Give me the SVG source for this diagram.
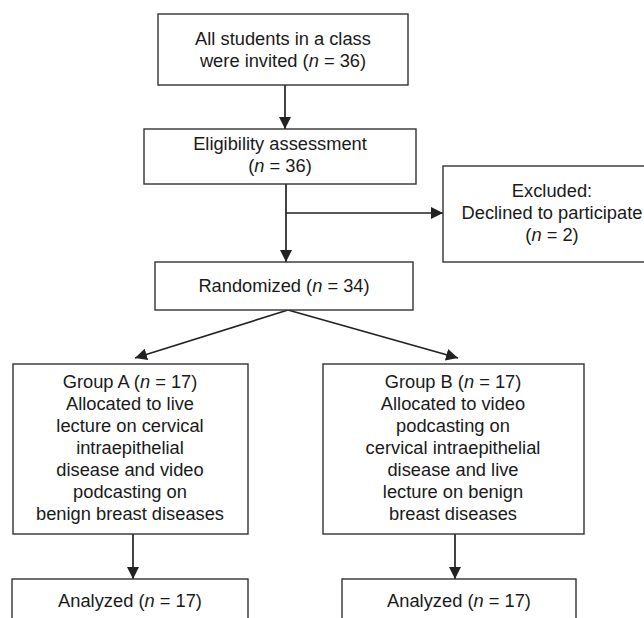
<svg xmlns="http://www.w3.org/2000/svg" width="644" height="618" viewBox="0 0 644 618">
<defs>
<marker id="ah" viewBox="0 0 12 12" refX="12" refY="6" markerWidth="12" markerHeight="12" markerUnits="userSpaceOnUse" orient="auto">
<path d="M0,0 L12,6 L0,12 Z" fill="#222"/>
</marker>
<style>
.box{fill:#fff;stroke:#333;stroke-width:1.4}
.t{font-family:"Liberation Sans",Arial,sans-serif;font-size:18.3px;fill:#1a1a1a;text-anchor:middle}
.c{fill:none;stroke:#222;stroke-width:1.7}
</style>
</defs>
<rect width="644" height="618" fill="#fff"/>
<g id="connectors">
<line class="c" x1="285" y1="85" x2="285" y2="129" marker-end="url(#ah)"/>
<line class="c" x1="286" y1="184" x2="286" y2="262" marker-end="url(#ah)"/>
<line class="c" x1="286" y1="213" x2="443" y2="213" marker-end="url(#ah)"/>
<line class="c" x1="288" y1="310" x2="135" y2="358" marker-end="url(#ah)"/>
<line class="c" x1="288" y1="310" x2="458" y2="358" marker-end="url(#ah)"/>
<line class="c" x1="133" y1="534" x2="133" y2="579" marker-end="url(#ah)"/>
<line class="c" x1="455" y1="534" x2="455" y2="579" marker-end="url(#ah)"/>
</g>
<g id="invited">
<rect class="box" x="158" y="14" width="250" height="71"/>
<text class="t" x="283" y="45">All students in a class</text>
<text class="t" x="283" y="67">were invited (<tspan font-style="italic">n</tspan> = 36)</text>
</g>
<g id="eligibility">
<rect class="box" x="144" y="129" width="272" height="55"/>
<text class="t" x="280" y="150">Eligibility assessment</text>
<text class="t" x="280" y="172">(<tspan font-style="italic">n</tspan> = 36)</text>
</g>
<g id="excluded">
<rect class="box" x="443" y="166" width="220" height="96"/>
<text class="t" x="552" y="197">Excluded:</text>
<text class="t" x="552" y="219">Declined to participate</text>
<text class="t" x="552" y="241">(<tspan font-style="italic">n</tspan> = 2)</text>
</g>
<g id="randomized">
<rect class="box" x="155" y="262" width="258" height="48"/>
<text class="t" x="284" y="292">Randomized (<tspan font-style="italic">n</tspan> = 34)</text>
</g>
<g id="groupA">
<rect class="box" x="13" y="364" width="235" height="170"/>
<text class="t" x="130" y="388">Group A (<tspan font-style="italic">n</tspan> = 17)</text>
<text class="t" x="130" y="410">Allocated to live</text>
<text class="t" x="130" y="432">lecture on cervical</text>
<text class="t" x="130" y="454">intraepithelial</text>
<text class="t" x="130" y="476">disease and video</text>
<text class="t" x="130" y="498">podcasting on</text>
<text class="t" x="130" y="520">benign breast diseases</text>
</g>
<g id="groupB">
<rect class="box" x="323" y="364" width="261" height="170"/>
<text class="t" x="453" y="388">Group B (<tspan font-style="italic">n</tspan> = 17)</text>
<text class="t" x="453" y="410">Allocated to video</text>
<text class="t" x="453" y="432">podcasting on</text>
<text class="t" x="453" y="454">cervical intraepithelial</text>
<text class="t" x="453" y="476">disease and live</text>
<text class="t" x="453" y="498">lecture on benign</text>
<text class="t" x="453" y="520">breast diseases</text>
</g>
<g id="analyzedA">
<rect class="box" x="12" y="579" width="236" height="60"/>
<text class="t" x="130" y="607">Analyzed (<tspan font-style="italic">n</tspan> = 17)</text>
</g>
<g id="analyzedB">
<rect class="box" x="342" y="579" width="234" height="60"/>
<text class="t" x="459" y="607">Analyzed (<tspan font-style="italic">n</tspan> = 17)</text>
</g>
</svg>
